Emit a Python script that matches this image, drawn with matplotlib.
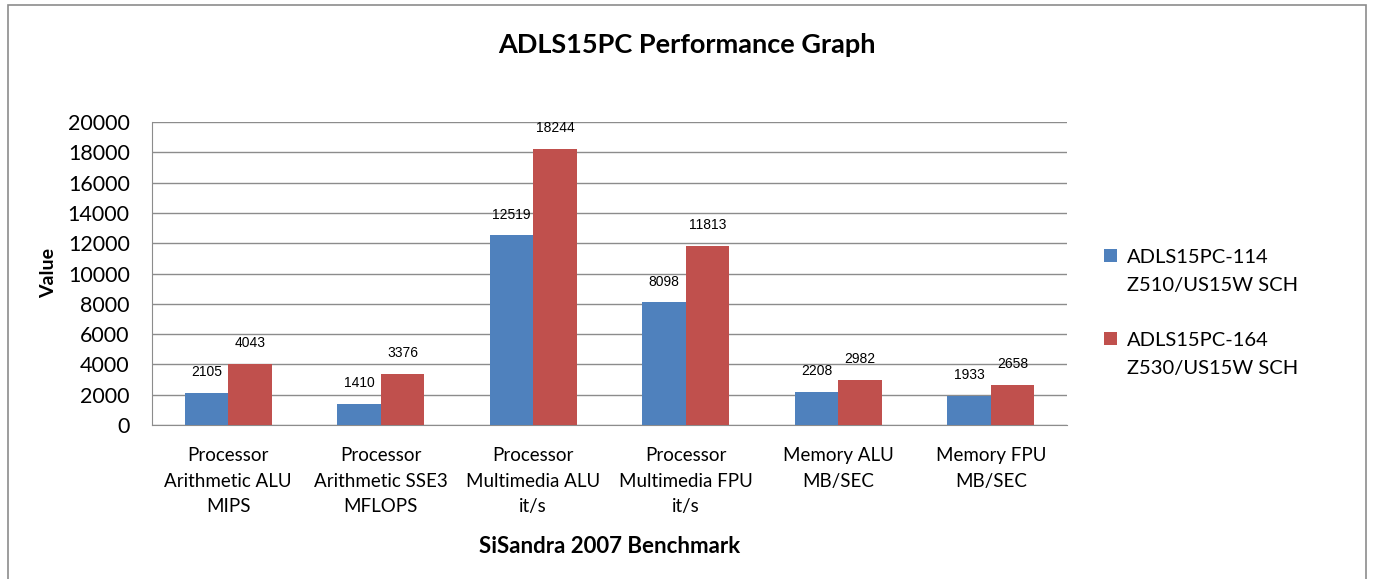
import numpy as np
import matplotlib.pyplot as plt
from matplotlib.patches import Rectangle

# Datos
categorias = ['Processor\nArithmetic ALU\nMIPS', 'Processor\nArithmetic SSE3\nMFLOPS',
              'Processor\nMultimedia ALU\nit/s', 'Processor\nMultimedia FPU\nit/s',
              'Memory ALU\nMB/SEC', 'Memory FPU\nMB/SEC']
serie_114 = [2105, 1410, 12519, 8098, 2208, 1933]
serie_164 = [4043, 3376, 18244, 11813, 2982, 2658]
nombres = ['ADLS15PC-114\nZ510/US15W SCH', 'ADLS15PC-164\nZ530/US15W SCH']
colores = ['#4F81BD', '#C0504D']

fuente = ['Lato', 'DejaVu Sans']
fig = plt.figure(figsize=(13.74, 5.79), dpi=100)
ax = fig.add_axes([152/1374, 1 - 425/579, (1067-152)/1374, (425-122)/579])

# Marco exterior
fig.patches.append(Rectangle((8/1374, -0.01), 1358/1374, 1 - 5/579 + 0.01,
                             transform=fig.transFigure, fill=False,
                             edgecolor='#8c8c8c', linewidth=1.2))

x = np.arange(len(categorias))
w = 0.285
b1 = ax.bar(x - w/2, serie_114, w, color=colores[0], label=nombres[0], zorder=3)
b2 = ax.bar(x + w/2, serie_164, w, color=colores[1], label=nombres[1], zorder=3)

for barras in (b1, b2):
    for r in barras:
        ax.text(r.get_x() + r.get_width()/2, r.get_height() + 900, f'{int(r.get_height())}',
                ha='center', va='bottom', fontsize=10, family='Liberation Sans')

ax.set_xlim(-0.5, len(categorias) - 0.5)
ax.set_ylim(0, 20000)
ax.set_yticks(range(0, 20001, 2000))
ax.yaxis.grid(True, color='#8c8c8c', linewidth=1, zorder=0)
ax.set_xticks(x)
ax.set_xticklabels(categorias, fontsize=13.5, family=fuente, linespacing=1.6)
for t in ax.get_yticklabels():
    t.set_fontsize(15.5)
    t.set_family(fuente)
ax.tick_params(axis='x', length=0, pad=16)
ax.tick_params(axis='y', length=0, pad=16)
for s in ['top', 'right']:
    ax.spines[s].set_visible(False)
ax.spines['left'].set_color('#8c8c8c')
ax.spines['bottom'].set_color('#8c8c8c')

ax.set_xlabel('SiSandra 2007 Benchmark', fontsize=16, fontweight='bold', family=fuente, labelpad=15)
ax.set_ylabel('Value', fontsize=14, fontweight='bold', family=fuente, labelpad=8)
fig.text(0.5, 1 - 45/579, 'ADLS15PC Performance Graph', ha='center', va='center',
         fontsize=19.5, fontweight='bold', family=fuente)

leg = fig.legend(loc='center left', bbox_to_anchor=(1086/1374, 1 - 313/579), frameon=False,
                 prop={'family': fuente, 'size': 14.5}, handlelength=0.65, handleheight=0.65,
                 handletextpad=0.5, labelspacing=1.9)
for t in leg.get_texts():
    t.set_linespacing(1.8)
# el cuadrito va a la altura de la primera linea
for h in leg.legend_handles:
    h.set_y(h.get_y() + 11.5)

fig.savefig('out.png', dpi=100)
